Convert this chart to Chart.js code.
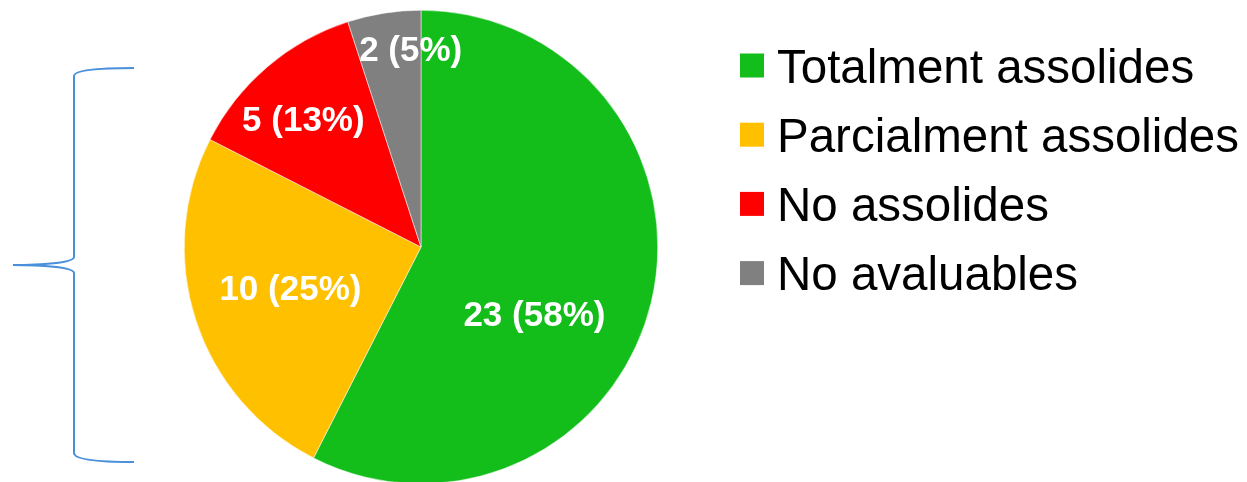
<!DOCTYPE html>
<html>
<head>
<meta charset="utf-8">
<script src="https://cdn.jsdelivr.net/npm/chart.js@4/dist/chart.umd.min.js"></script>
<style>
  html, body { margin: 0; padding: 0; background: #fff; overflow: hidden; }
  #wrap { width: 1247px; height: 482px; overflow: hidden; position: relative; }
  #box { width: 1247px; height: 500px; }
</style>
</head>
<body>
<div id="wrap"><div id="box"><canvas id="pie"></canvas></div></div>
<script>
// Données du graphique
const categories = ['Totalment assolides', 'Parcialment assolides', 'No assolides', 'No avaluables'];
const valeurs = [23, 10, 5, 2];
const pourcentages = ['58%', '25%', '13%', '5%'];
const couleurs = ['#13bd1a', '#ffc000', '#ff0000', '#808080'];

// Placement des étiquettes (fraction du rayon, décalage d'angle en degrés)
const labelRayon = [0.56, 0.58, 0.73, 0.83];
const labelDecalage = [17.7, 0, -2.4, 6];

// Étiquettes blanches dans les secteurs
const etiquettes = {
    id: 'etiquettes',
    afterDatasetsDraw(chart) {
        const ctx = chart.ctx;
        const arcs = chart.getDatasetMeta(0).data;
        ctx.save();
        ctx.fillStyle = '#fff';
        ctx.font = 'bold 35px "Liberation Sans", Arial, sans-serif';
        ctx.textAlign = 'center';
        ctx.textBaseline = 'middle';
        arcs.forEach((arc, i) => {
            const mid = (arc.startAngle + arc.endAngle) / 2 + labelDecalage[i] * Math.PI / 180;
            const r = arc.outerRadius * labelRayon[i];
            const x = arc.x + Math.cos(mid) * r;
            const y = arc.y + Math.sin(mid) * r;
            ctx.fillText(valeurs[i] + ' (' + pourcentages[i] + ')', x, y + 1);
        });
        ctx.restore();
    }
};

// Légende dessinée à droite
const legende = {
    id: 'legende',
    afterDraw(chart) {
        const ctx = chart.ctx;
        ctx.save();
        ctx.font = '47.5px "Liberation Sans", Arial, sans-serif';
        ctx.textBaseline = 'alphabetic';
        categories.forEach((nom, i) => {
            const y = 65.5 + i * 69.2;
            ctx.fillStyle = couleurs[i];
            ctx.fillRect(740, y - 12, 24, 24);
            ctx.fillStyle = '#000';
            ctx.fillText(nom, 777, y + 17);
        });
        ctx.restore();
    }
};

// Accolade bleue à gauche
const accolade = {
    id: 'accolade',
    afterDraw(chart) {
        const ctx = chart.ctx;
        ctx.save();
        ctx.strokeStyle = '#4a8fdb';
        ctx.lineWidth = 2;
        ctx.beginPath();
        ctx.moveTo(134, 68);
        ctx.bezierCurveTo(100, 68, 74, 70, 74, 76);
        ctx.lineTo(74, 257);
        ctx.bezierCurveTo(74, 263, 40, 265, 13, 265);
        ctx.moveTo(13, 265);
        ctx.bezierCurveTo(40, 265, 74, 267, 74, 273);
        ctx.lineTo(74, 453);
        ctx.bezierCurveTo(74, 460, 100, 462, 134, 462);
        ctx.stroke();
        ctx.restore();
    }
};

const ctx = document.getElementById('pie').getContext('2d');
new Chart(ctx, {
    type: 'pie',
    data: {
        labels: categories,
        datasets: [{
            data: valeurs,
            backgroundColor: couleurs,
            borderColor: '#ffffff',
            borderWidth: 0.5
        }]
    },
    options: {
        responsive: true,
        maintainAspectRatio: false,
        animation: false,
        layout: {
            padding: { left: 184, right: 589, top: 10, bottom: 16 }
        },
        plugins: {
            legend: { display: false },
            tooltip: { enabled: false }
        }
    },
    plugins: [etiquettes, legende, accolade]
});
</script>
</body>
</html>
